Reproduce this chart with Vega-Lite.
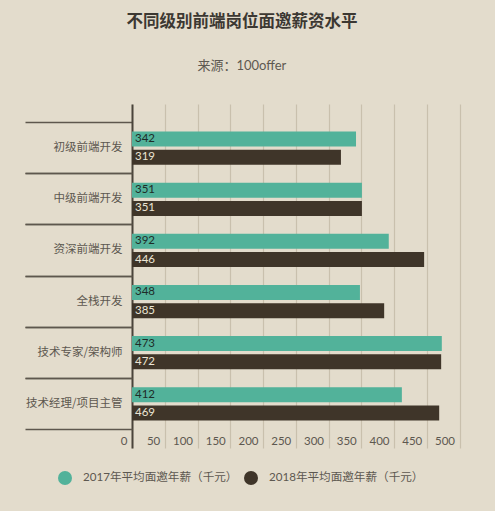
{
  "$schema": "https://vega.github.io/schema/vega-lite/v6.json",
  "autosize": "none",
  "padding": {"left": 132, "top": 104, "right": 35.5, "bottom": 63},
  "width": 327.5,
  "height": 344,
  "background": "#e3dccc",
  "config": {
    "view": {"stroke": null},
    "font": "Lato, 'Noto Sans CJK SC', sans-serif"
  },
  "title": {
    "text": "不同级别前端岗位面邀薪资水平",
    "subtitle": "来源：100offer",
    "anchor": "middle",
    "frame": "bounds",
    "font": "'Noto Sans CJK SC', sans-serif",
    "fontSize": 16.5,
    "fontWeight": "bold",
    "color": "#3c3832",
    "subtitleFont": "Lato, 'Noto Sans CJK SC', sans-serif",
    "subtitleFontSize": 13,
    "subtitleColor": "#5e5951",
    "subtitlePadding": 30,
    "offset": 31
  },
  "data": {
    "values": [
      {"category": "初级前端开发", "year": "2017", "value": 342},
      {"category": "初级前端开发", "year": "2018", "value": 319},
      {"category": "中级前端开发", "year": "2017", "value": 351},
      {"category": "中级前端开发", "year": "2018", "value": 351},
      {"category": "资深前端开发", "year": "2017", "value": 392},
      {"category": "资深前端开发", "year": "2018", "value": 446},
      {"category": "全栈开发", "year": "2017", "value": 348},
      {"category": "全栈开发", "year": "2018", "value": 385},
      {"category": "技术专家/架构师", "year": "2017", "value": 473},
      {"category": "技术专家/架构师", "year": "2018", "value": 472},
      {"category": "技术经理/项目主管", "year": "2017", "value": 412},
      {"category": "技术经理/项目主管", "year": "2018", "value": 469}
    ]
  },
  "resolve": {"axis": {"y": "independent"}},
  "layer": [
    {
      "mark": {"type": "bar"},
      "encoding": {
        "y": {
          "field": "category",
          "type": "nominal",
          "sort": null,
          "scale": {"paddingInner": 0, "paddingOuter": 0.365},
          "axis": {
            "orient": "left",
            "title": null,
            "bandPosition": 0,
            "tickSize": 107,
            "tickColor": "#5e574d",
            "tickWidth": 1.5,
            "domainColor": "#4a443b",
            "domainWidth": 2,
            "labelPadding": -97,
            "labelFontSize": 11.5,
            "labelColor": "#5d5850",
            "labelFont": "'Noto Sans CJK SC', sans-serif",
            "grid": false
          }
        },
        "yOffset": {
          "field": "year",
          "type": "nominal",
          "scale": {"paddingInner": 0.18, "paddingOuter": 0.486}
        },
        "x": {
          "field": "value",
          "type": "quantitative",
          "scale": {"domain": [0, 500], "nice": false},
          "axis": {
            "orient": "bottom",
            "title": null,
            "domain": false,
            "ticks": false,
            "grid": true,
            "gridColor": "#c9c0ad",
            "gridWidth": 1.2,
            "tickCount": 10,
            "labelAlign": "right",
            "labelOffset": -5,
            "labelPadding": -13,
            "labelFontSize": 11.5,
            "labelColor": "#5d5850",
            "labelFlush": false,
            "labelOverlap": false,
            "labelBound": false
          }
        },
        "color": {
          "field": "year",
          "type": "nominal",
          "scale": {"domain": ["2017", "2018"], "range": ["#52b29a", "#3f3529"]},
          "legend": {
            "orient": "none",
            "direction": "horizontal",
            "legendX": -74,
            "legendY": 367,
            "title": null,
            "padding": 0,
            "symbolType": "circle",
            "symbolSize": 196,
            "symbolStrokeWidth": 0,
            "labelOffset": 11,
            "columnPadding": 6,
            "labelFontSize": 11.6,
            "labelColor": "#5d5850",
            "labelExpr": "datum.label + '年平均面邀年薪（千元）'"
          }
        }
      }
    },
    {
      "mark": {"type": "text", "align": "left", "baseline": "middle", "dx": 3, "fontSize": 11.5},
      "encoding": {
        "y": {
          "field": "category",
          "type": "nominal",
          "sort": null,
          "axis": {
            "orient": "left",
            "title": null,
            "bandPosition": 1,
            "tickSize": 107,
            "tickColor": "#5e574d",
            "tickWidth": 1.5,
            "domain": false,
            "labels": false,
            "grid": false
          }
        },
        "yOffset": {"field": "year", "type": "nominal"},
        "x": {"datum": 0, "type": "quantitative"},
        "text": {"field": "value", "type": "quantitative"},
        "color": {
          "condition": {"test": "datum.year === '2017'", "value": "#1e2c28"},
          "value": "#ece5d5"
        }
      }
    }
  ]
}
